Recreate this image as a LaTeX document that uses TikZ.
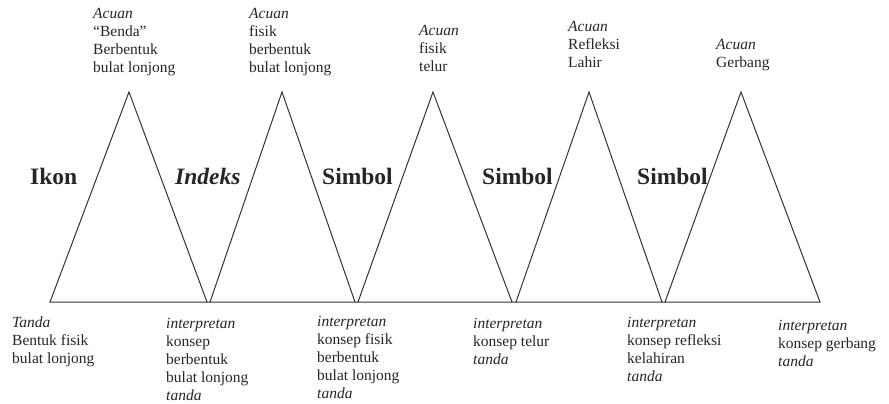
\documentclass[tikz,border=0pt]{standalone}
\usepackage{fontspec}
\setmainfont{Liberation Serif}
\newcommand{\lbl}[1]{\begin{tabular}[t]{@{}l@{}}#1\end{tabular}}
\begin{document}
\begin{tikzpicture}[x=1pt,y=-1pt,
  lab/.style={anchor=base west, inner sep=0pt, font=\fontsize{15.5}{18}\selectfont, text=black!85},
  big/.style={anchor=base west, inner sep=0pt, font=\fontsize{23.5}{26}\selectfont\bfseries, text=black!85},
  tri/.style={draw=black!80, line width=1pt, line join=miter}]
\useasboundingbox (0,0) rectangle (889,404);
% triangle corners
\coordinate (l1) at (50,302);  \coordinate (t1) at (129,92);  \coordinate (r1) at (207,302);
\coordinate (l2) at (210,302); \coordinate (t2) at (282,92);  \coordinate (r2) at (355,302);
\coordinate (l3) at (358,302); \coordinate (t3) at (433,92);  \coordinate (r3) at (512,302);
\coordinate (l4) at (516,302); \coordinate (t4) at (589,92);  \coordinate (r4) at (662,302);
\coordinate (l5) at (665,302); \coordinate (t5) at (741,92);  \coordinate (r5) at (820,302);
\draw[tri] (l1) -- (t1) -- (r1) -- (l2) -- (t2) -- (r2) -- (l3) -- (t3) -- (r3)
  -- (l4) -- (t4) -- (r4) -- (l5) -- (t5) -- (r5) -- cycle;
% top labels
\node[lab] (a1) at (93,19) {\lbl{\textit{Acuan}\\``Benda''\\Berbentuk\\bulat lonjong}};
\node[lab] (a2) at (249,19) {\lbl{\textit{Acuan}\\fisik\\berbentuk\\bulat lonjong}};
\node[lab] (a3) at (419,36) {\lbl{\textit{Acuan}\\fisik\\telur}};
\node[lab] (a4) at (568,32) {\lbl{\textit{Acuan}\\Refleksi\\Lahir}};
\node[lab] (a5) at (716,50) {\lbl{\textit{Acuan}\\Gerbang}};
% middle labels
\node[big] (m1) at (30,184) {Ikon};
\node[big] (m2) at (175,184) {\textit{Indeks}};
\node[big] (m3) at (322,184) {Simbol};
\node[big] (m4) at (482,184) {Simbol};
\node[big] (m5) at (637,184) {Simbol};
% bottom labels
\node[lab] (b1) at (12,327) {\lbl{\textit{Tanda}\\Bentuk fisik\\bulat lonjong}};
\node[lab] (b2) at (166,328) {\lbl{\textit{interpretan}\\konsep\\berbentuk\\bulat lonjong\\\textit{tanda}}};
\node[lab] (b3) at (317,326) {\lbl{\textit{interpretan}\\konsep fisik\\berbentuk\\bulat lonjong\\\textit{tanda}}};
\node[lab] (b4) at (473,328) {\lbl{\textit{interpretan}\\konsep telur\\\textit{tanda}}};
\node[lab] (b5) at (627,327) {\lbl{\textit{interpretan}\\konsep refleksi\\kelahiran\\\textit{tanda}}};
\node[lab] (b6) at (778,330) {\lbl{\textit{interpretan}\\konsep gerbang\\\textit{tanda}}};
\end{tikzpicture}
\end{document}
